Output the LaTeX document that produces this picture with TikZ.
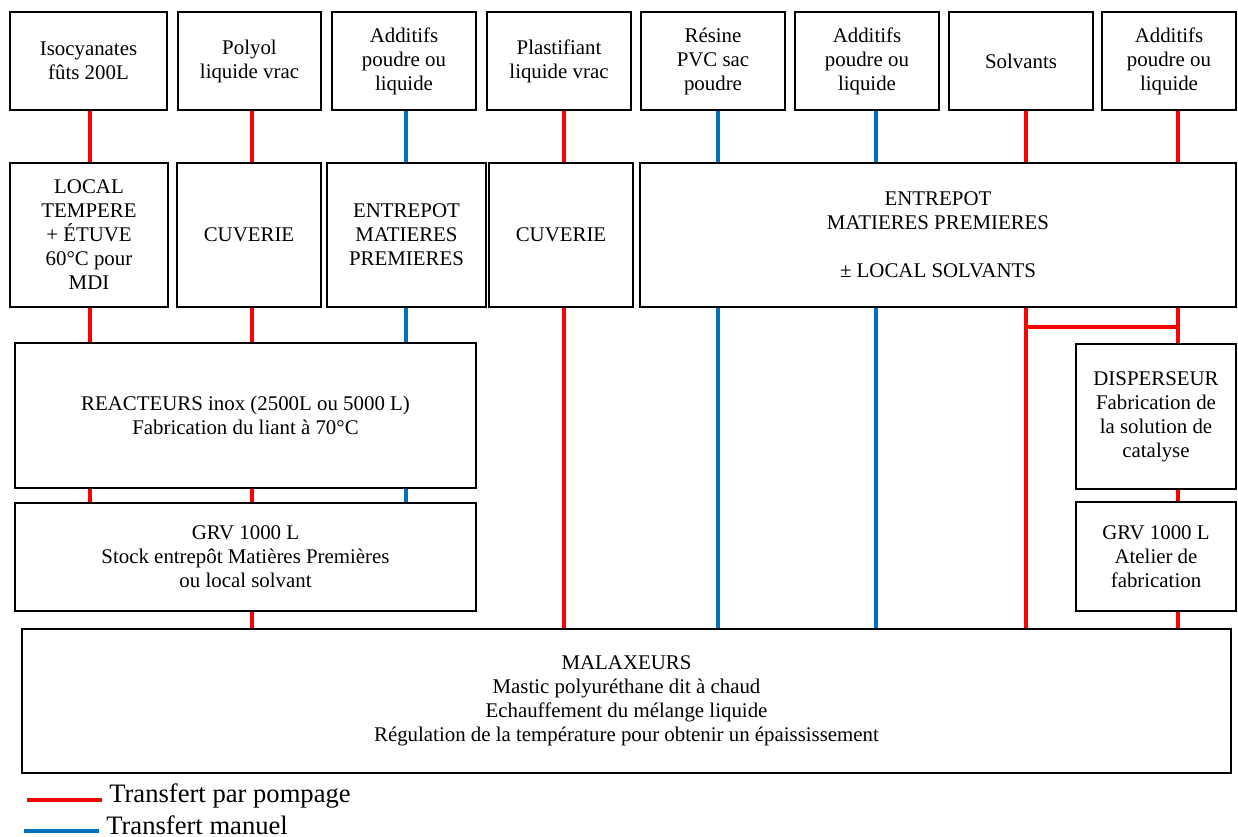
\documentclass[tikz,border=0pt]{standalone}
\usepackage{fontspec}
\setmainfont{Liberation Serif}
\definecolor{pumpred}{RGB}{255,0,0}
\definecolor{manblue}{RGB}{0,112,192}
\newcommand\mkbox[6]{\node[box, minimum width={(#4-#2)*0.575pt}, minimum height={(#5-#3)*0.575pt}] (#1) at ({(#2+#4)/2},{(#3+#5)/2}) {#6};}
\begin{document}
\begin{tikzpicture}[x=0.575pt,y=-0.575pt,
  box/.style={draw=black, line width=1.1pt, fill=white, inner sep=0pt, align=center, font=\fontsize{12}{13.8}\selectfont},
  pump/.style={draw=pumpred, line width=1.9pt},
  manual/.style={draw=manblue, line width=1.9pt},
  legend/.style={anchor=west, inner xsep=4pt, inner ysep=0pt, font=\fontsize{15.3}{18}\selectfont}]
\useasboundingbox (0,0) rectangle (1238,837);
% top row
\mkbox{t1}{10}{12}{167}{110}{Isocyanates\\fûts 200L}
\mkbox{t2}{178}{12}{321}{110}{Polyol\\liquide vrac}
\mkbox{t3}{332}{12}{476}{110}{Additifs\\poudre ou\\liquide}
\mkbox{t4}{487}{12}{631}{110}{Plastifiant\\liquide vrac}
\mkbox{t5}{641}{12}{785}{110}{Résine\\PVC sac\\poudre}
\mkbox{t6}{795}{12}{939}{110}{Additifs\\poudre ou\\liquide}
\mkbox{t7}{949}{12}{1093}{110}{Solvants}
\mkbox{t8}{1102}{12}{1236}{110}{Additifs\\poudre ou\\liquide}
% second row
\mkbox{s1}{10}{163}{168}{307}{LOCAL\\TEMPERE\\+ ÉTUVE\\60°C pour\\MDI}
\mkbox{s2}{177}{163}{321}{307}{CUVERIE}
\mkbox{s3}{327}{163}{486}{307}{ENTREPOT\\MATIERES\\PREMIERES}
\mkbox{s4}{489}{163}{633}{307}{CUVERIE}
\mkbox{s5}{640}{163}{1236}{307}{ENTREPOT\\MATIERES PREMIERES\\[13.8pt]± LOCAL SOLVANTS}
% process boxes
\mkbox{re}{15}{343}{476}{488}{REACTEURS inox (2500L ou 5000 L)\\Fabrication du liant à 70°C}
\mkbox{grv}{15}{503}{476}{611}{GRV 1000 L\\Stock entrepôt Matières Premières\\ou local solvant}
\mkbox{di}{1076}{344}{1236}{489}{DISPERSEUR\\Fabrication de\\la solution de\\catalyse}
\mkbox{gr2}{1076}{502}{1236}{611}{GRV 1000 L\\Atelier de\\fabrication}
\mkbox{ma}{22}{629}{1231}{773}{MALAXEURS\\Mastic polyuréthane dit à chaud\\Echauffement du mélange liquide\\Régulation de la température pour obtenir un épaississement}
% columns
\coordinate (c1) at (90,0);
\coordinate (c2) at (252,0);
\coordinate (c3) at (406,0);
\coordinate (c4) at (564,0);
\coordinate (c5) at (718,0);
\coordinate (c6) at (876,0);
\coordinate (c7) at (1026,0);
\coordinate (c8) at (1178,0);
% column 1
\draw[pump] (t1.south -| c1) -- (s1.north -| c1);
\draw[pump] (s1.south -| c1) -- (re.north -| c1);
\draw[pump] (re.south -| c1) -- (grv.north -| c1);
% column 2
\draw[pump] (t2.south -| c2) -- (s2.north -| c2);
\draw[pump] (s2.south -| c2) -- (re.north -| c2);
\draw[pump] (re.south -| c2) -- (grv.north -| c2);
\draw[pump] (grv.south -| c2) -- (ma.north -| c2);
% column 3
\draw[manual] (t3.south -| c3) -- (s3.north -| c3);
\draw[manual] (s3.south -| c3) -- (re.north -| c3);
\draw[manual] (re.south -| c3) -- (grv.north -| c3);
% column 4
\draw[pump] (t4.south -| c4) -- (s4.north -| c4);
\draw[pump] (s4.south -| c4) -- (ma.north -| c4);
% column 5
\draw[manual] (t5.south -| c5) -- (s5.north -| c5);
\draw[manual] (s5.south -| c5) -- (ma.north -| c5);
% column 6
\draw[manual] (t6.south -| c6) -- (s5.north -| c6);
\draw[manual] (s5.south -| c6) -- (ma.north -| c6);
% column 7
\draw[pump] (t7.south -| c7) -- (s5.north -| c7);
\draw[pump] (s5.south -| c7) -- (ma.north -| c7);
% column 8
\draw[pump] (t8.south -| c8) -- (s5.north -| c8);
\draw[pump] (s5.south -| c8) -- (di.north -| c8);
\draw[pump] (di.south -| c8) -- (gr2.north -| c8);
\draw[pump] (gr2.south -| c8) -- (ma.north -| c8);
% junction
\coordinate (j1) at (1026,327);
\coordinate (j2) at (1178,327);
\draw[pump] (j1) -- (j2);
% legend
\node[legend] (lg1) at (102,796) {Transfert par pompage};
\node[legend] (lg2) at (99,825) {Transfert manuel};
\coordinate (lr) at (27,800);
\coordinate (lb) at (24,831);
\draw[pump] (lr) -- (lr -| lg1.west);
\draw[manual] (lb) -- (lb -| lg2.west);
\end{tikzpicture}
\end{document}
